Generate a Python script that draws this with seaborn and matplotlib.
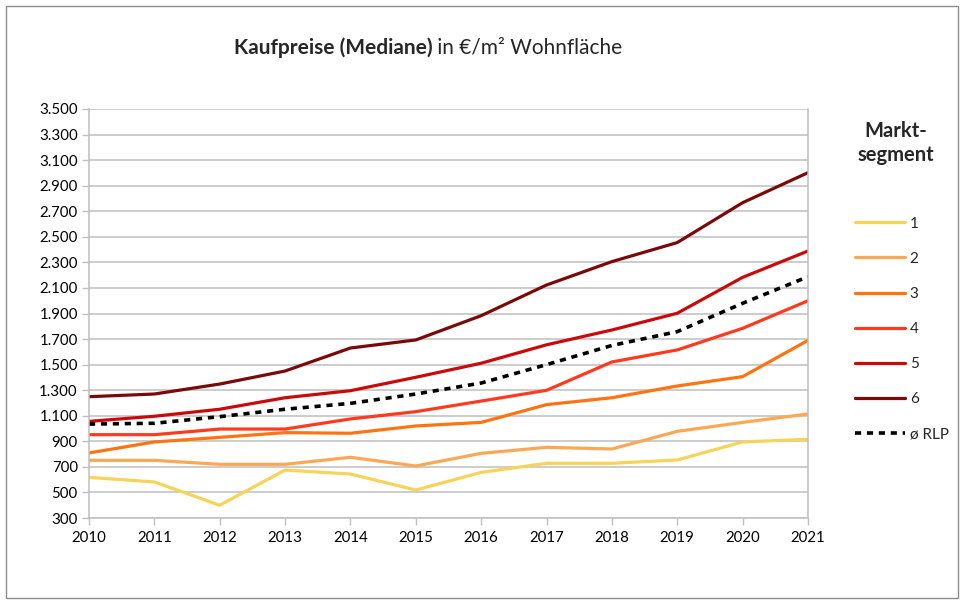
import matplotlib as mpl
import matplotlib.pyplot as plt
import seaborn as sns
import pandas as pd
from matplotlib.lines import Line2D
from matplotlib.patches import Rectangle
from matplotlib.ticker import FuncFormatter

years = list(range(2010, 2022))
seg1 = [618, 582, 400, 675, 644, 519, 657, 728, 728, 754, 895, 916]
seg2 = [751, 751, 720, 720, 775, 707, 806, 853, 840, 978, 1048, 1114]
seg3 = [809, 895, 931, 968, 963, 1020, 1048, 1187, 1241, 1333, 1406, 1690]
seg4 = [952, 952, 996, 996, 1075, 1132, 1215, 1299, 1521, 1615, 1784, 2000]
seg5 = [1056, 1096, 1151, 1241, 1296, 1401, 1511, 1655, 1771, 1902, 2183, 2389]
seg6 = [1249, 1270, 1348, 1450, 1630, 1693, 1883, 2123, 2306, 2455, 2767, 3002]
rlp = [1035, 1041, 1093, 1151, 1197, 1270, 1356, 1500, 1650, 1758, 1980, 2188]

labels = ["1", "2", "3", "4", "5", "6", "ø RLP"]
series = [seg1, seg2, seg3, seg4, seg5, seg6, rlp]
colors = ["#F7D35A", "#FBA855", "#FF7410", "#FF3A1E", "#C80A0A", "#7A0A0A", "#000000"]

sns.set_style("white")
plt.rcParams['font.family'] = ['Lato', 'DejaVu Sans']

fig = plt.figure(figsize=(9.65, 6.03), dpi=100)
ax = fig.add_axes([89 / 965, 1 - 518 / 603, (808 - 89) / 965, (518 - 109) / 603])

for lab, vals, col in zip(labels, series, colors):
    df = pd.DataFrame({"Jahr": years, "Preis": vals})
    sns.lineplot(data=df, x="Jahr", y="Preis", color=col, linewidth=2.3, ax=ax)
ax.lines[-1].set_dashes([1.7, 1.6])
ax.lines[-1].set_linewidth(2.6)

ax.set_xlim(2010, 2021)
ax.set_ylim(300, 3500)
ax.set_yticks(range(300, 3501, 200))
ax.set_xticks(years)
ax.yaxis.set_major_formatter(FuncFormatter(lambda v, p: f"{v:,.0f}".replace(",", ".")))
ax.grid(axis="y", color="#BFBFBF", linewidth=1.1)
ax.set_axisbelow(True)
ax.set_xlabel("")
ax.set_ylabel("")
for side in ["left", "bottom", "right"]:
    ax.spines[side].set_color("#BFBFBF")
    ax.spines[side].set_linewidth(1.1)
ax.spines["top"].set_visible(False)
ax.tick_params(axis="both", direction="out", length=5, width=1, color="#BFBFBF",
               labelsize=10.8, labelcolor="black", left=True, bottom=True)
ax.tick_params(axis="y", pad=3)
ax.tick_params(axis="x", pad=4)

# title with bold part
t1 = fig.text(0.0, 1 - 48 / 603, "Kaufpreise (Mediane)", fontsize=15, fontweight="bold",
              va="center", ha="left")
t2 = fig.text(0.0, 1 - 48 / 603, " in €/m² Wohnfläche", fontsize=15, va="center", ha="left")
fig.canvas.draw()
r = fig.canvas.get_renderer()
w1 = t1.get_window_extent(r).width
w2 = t2.get_window_extent(r).width
x0 = 428 - (w1 + w2) / 2
t1.set_x(x0 / 965)
t2.set_x((x0 + w1) / 965)

# legend
fig.text(896 / 965, 1 - 143 / 603, "Markt-\nsegment", fontsize=14.5, fontweight="bold",
         ha="center", va="center", linespacing=1.3)
handles = [Line2D([0], [0], color=c, linewidth=2.3) for c in colors]
handles[-1] = Line2D([0], [0], color="black", linewidth=2.6, dashes=[1.7, 1.6])
fig.legend(handles=handles, labels=labels, loc="upper left",
           bbox_to_anchor=(841 / 965, 1 - 203 / 603), frameon=False, fontsize=11,
           labelspacing=1.38, handlelength=3.3, handletextpad=0.3)

fig.patches.append(Rectangle((6 / 965, 5 / 603), 952 / 965, 592 / 603,
                             transform=fig.transFigure, fill=False,
                             edgecolor="#8C8C8C", linewidth=1.0))

fig.savefig("out.png", dpi=100)
